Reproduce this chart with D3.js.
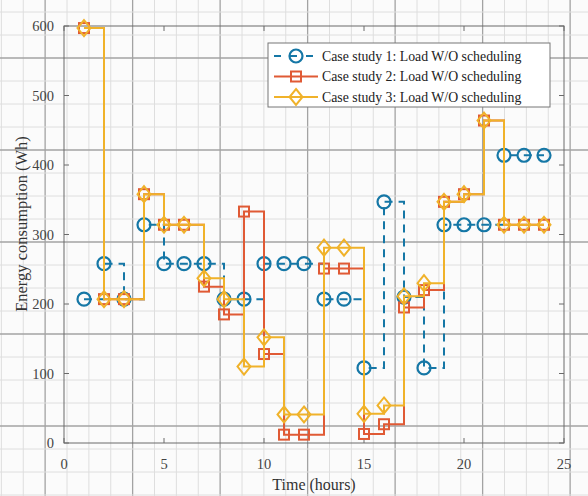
<!DOCTYPE html>
<html>
<head>
<meta charset="utf-8">
<script src="https://cdn.jsdelivr.net/npm/d3@7"></script>
<style>
  body { margin: 0; background: #fbfbfb; }
  svg { display: block; font-family: "Liberation Serif", "Times New Roman", serif; }
</style>
</head>
<body>
<svg id="chart" width="588" height="496"></svg>
<script>
// hours 1..24
const hours = d3.range(1, 25);
const case1 = [207, 258, 207, 314, 258, 258, 258, 207, 207, 258, 258, 258, 207, 207, 108, 347, 210, 108, 314, 314, 314, 414, 414, 414];
const case2 = [597, 207, 207, 358, 314, 314, 225, 185, 333, 128, 12, 12, 251, 251, 13, 27, 195, 220, 347, 358, 464, 314, 314, 314];
const case3 = [597, 207, 207, 358, 314, 314, 237, 207, 110, 152, 41, 41, 281, 281, 42, 54, 211, 230, 347, 358, 464, 314, 314, 314];
const xTicks = [0, 5, 10, 15, 20, 25];
const yTicks = [0, 100, 200, 300, 400, 500, 600];
const legendLabels = [
  'Case study 1: Load W/O scheduling',
  'Case study 2: Load W/O scheduling',
  'Case study 3: Load W/O scheduling'
];

const svg = d3.select('#chart'),
  W = +svg.attr('width'),
  H = +svg.attr('height'),
  margin = { top: 26, right: 24, bottom: 53, left: 64 };

const x = d3.scaleLinear().domain([0, 25]).range([margin.left, W - margin.right]);
const y = d3.scaleLinear().domain([0, 600]).range([H - margin.bottom, margin.top]);

// graph paper behind the plot
const paper = svg.append('g');
const fineX = d3.range(-1, 30).map(i => 67 - 87.5 + i * 21.875);
const fineY = d3.range(-1, 26).map(i => 81 - 92 + i * 23);
paper.selectAll('.fx').data(fineX).join('line')
  .attr('x1', d => d).attr('x2', d => d).attr('y1', 0).attr('y2', H)
  .attr('stroke', (d, i) => i % 4 === 0 ? '#a3a3a3' : '#dedede')
  .attr('stroke-width', (d, i) => i % 4 === 0 ? 1.3 : 1);
paper.selectAll('.fy').data(fineY).join('line')
  .attr('y1', d => d).attr('y2', d => d).attr('x1', 0).attr('x2', W)
  .attr('stroke', (d, i) => i % 4 === 0 ? '#a3a3a3' : '#dedede')
  .attr('stroke-width', (d, i) => i % 4 === 0 ? 1.3 : 1);

// axes box
const x0 = x(0), x1 = x(25), y0 = y(0), y1 = y(600);
svg.append('rect')
  .attr('x', x0).attr('y', y1).attr('width', x1 - x0).attr('height', y0 - y1)
  .attr('fill', 'none').attr('stroke', '#6a6a6a').attr('stroke-width', 1);

// ticks pointing inwards on all four sides
const tk = svg.append('g').attr('stroke', '#6a6a6a');
xTicks.forEach(t => {
  tk.append('line').attr('x1', x(t)).attr('x2', x(t)).attr('y1', y0).attr('y2', y0 - 5);
  tk.append('line').attr('x1', x(t)).attr('x2', x(t)).attr('y1', y1).attr('y2', y1 + 5);
});
yTicks.forEach(t => {
  tk.append('line').attr('y1', y(t)).attr('y2', y(t)).attr('x1', x0).attr('x2', x0 + 5);
  tk.append('line').attr('y1', y(t)).attr('y2', y(t)).attr('x1', x1).attr('x2', x1 - 5);
});

svg.append('g').selectAll('text').data(xTicks).join('text')
  .attr('x', d => x(d)).attr('y', y0 + 26)
  .attr('text-anchor', 'middle').attr('font-size', 14.5).attr('fill', '#444')
  .text(d => d);
svg.append('g').selectAll('text').data(yTicks).join('text')
  .attr('x', x0 - 10).attr('y', d => y(d) + 5)
  .attr('text-anchor', 'end').attr('font-size', 14.5).attr('fill', '#444')
  .text(d => d);

svg.append('text')
  .attr('x', (x0 + x1) / 2).attr('y', 490)
  .attr('text-anchor', 'middle').attr('font-size', 16).attr('fill', '#333')
  .text('Time (hours)');
svg.append('text')
  .attr('transform', 'translate(27,' + 224 + ') rotate(-90)')
  .attr('text-anchor', 'middle').attr('font-size', 16.5).attr('fill', '#333')
  .text('Energy consumption (Wh)');

// series
const series = [
  { vals: case1, color: '#1577a6', dash: '8,6', marker: 'circle' },
  { vals: case2, color: '#e05a35', dash: null, marker: 'square' },
  { vals: case3, color: '#f0b22a', dash: null, marker: 'diamond' }
];

const stair = d3.line().x(d => x(d[0])).y(d => y(d[1])).curve(d3.curveStepAfter);

function drawMarker(g, kind, cx, cy, color) {
  if (kind === 'circle') {
    g.append('circle').attr('cx', cx).attr('cy', cy).attr('r', 6.5)
      .attr('fill', 'none').attr('stroke', color).attr('stroke-width', 2.2);
  } else if (kind === 'square') {
    g.append('rect').attr('x', cx - 5).attr('y', cy - 5).attr('width', 10).attr('height', 10)
      .attr('fill', 'none').attr('stroke', color).attr('stroke-width', 2);
  } else {
    g.append('path')
      .attr('d', `M${cx},${cy - 8}L${cx + 6.5},${cy}L${cx},${cy + 8}L${cx - 6.5},${cy}Z`)
      .attr('fill', 'none').attr('stroke', color).attr('stroke-width', 2);
  }
}

series.forEach(s => {
  const pts = hours.map((h, i) => [h, s.vals[i]]);
  const g = svg.append('g');
  g.append('path').datum(pts)
    .attr('d', stair)
    .attr('fill', 'none')
    .attr('stroke', s.color)
    .attr('stroke-width', 2)
    .attr('stroke-dasharray', s.dash);
  pts.forEach(p => drawMarker(g, s.marker, x(p[0]), y(p[1]), s.color));
});

// legend
const lg = svg.append('g');
lg.append('rect').attr('x', 268).attr('y', 43).attr('width', 282).attr('height', 64)
  .attr('fill', '#fff').attr('stroke', '#777').attr('stroke-width', 1);
series.forEach((s, i) => {
  const ly = 56 + i * 20.5;
  lg.append('line').attr('x1', 274).attr('x2', 318).attr('y1', ly).attr('y2', ly)
    .attr('stroke', s.color).attr('stroke-width', 2)
    .attr('stroke-dasharray', s.dash ? '7,9' : null);
  drawMarker(lg, s.marker, 296, ly, s.color);
  lg.append('text').attr('x', 322).attr('y', ly + 4.5)
    .attr('font-size', 13.8).attr('fill', '#222')
    .text(legendLabels[i]);
});
</script>
</body>
</html>
